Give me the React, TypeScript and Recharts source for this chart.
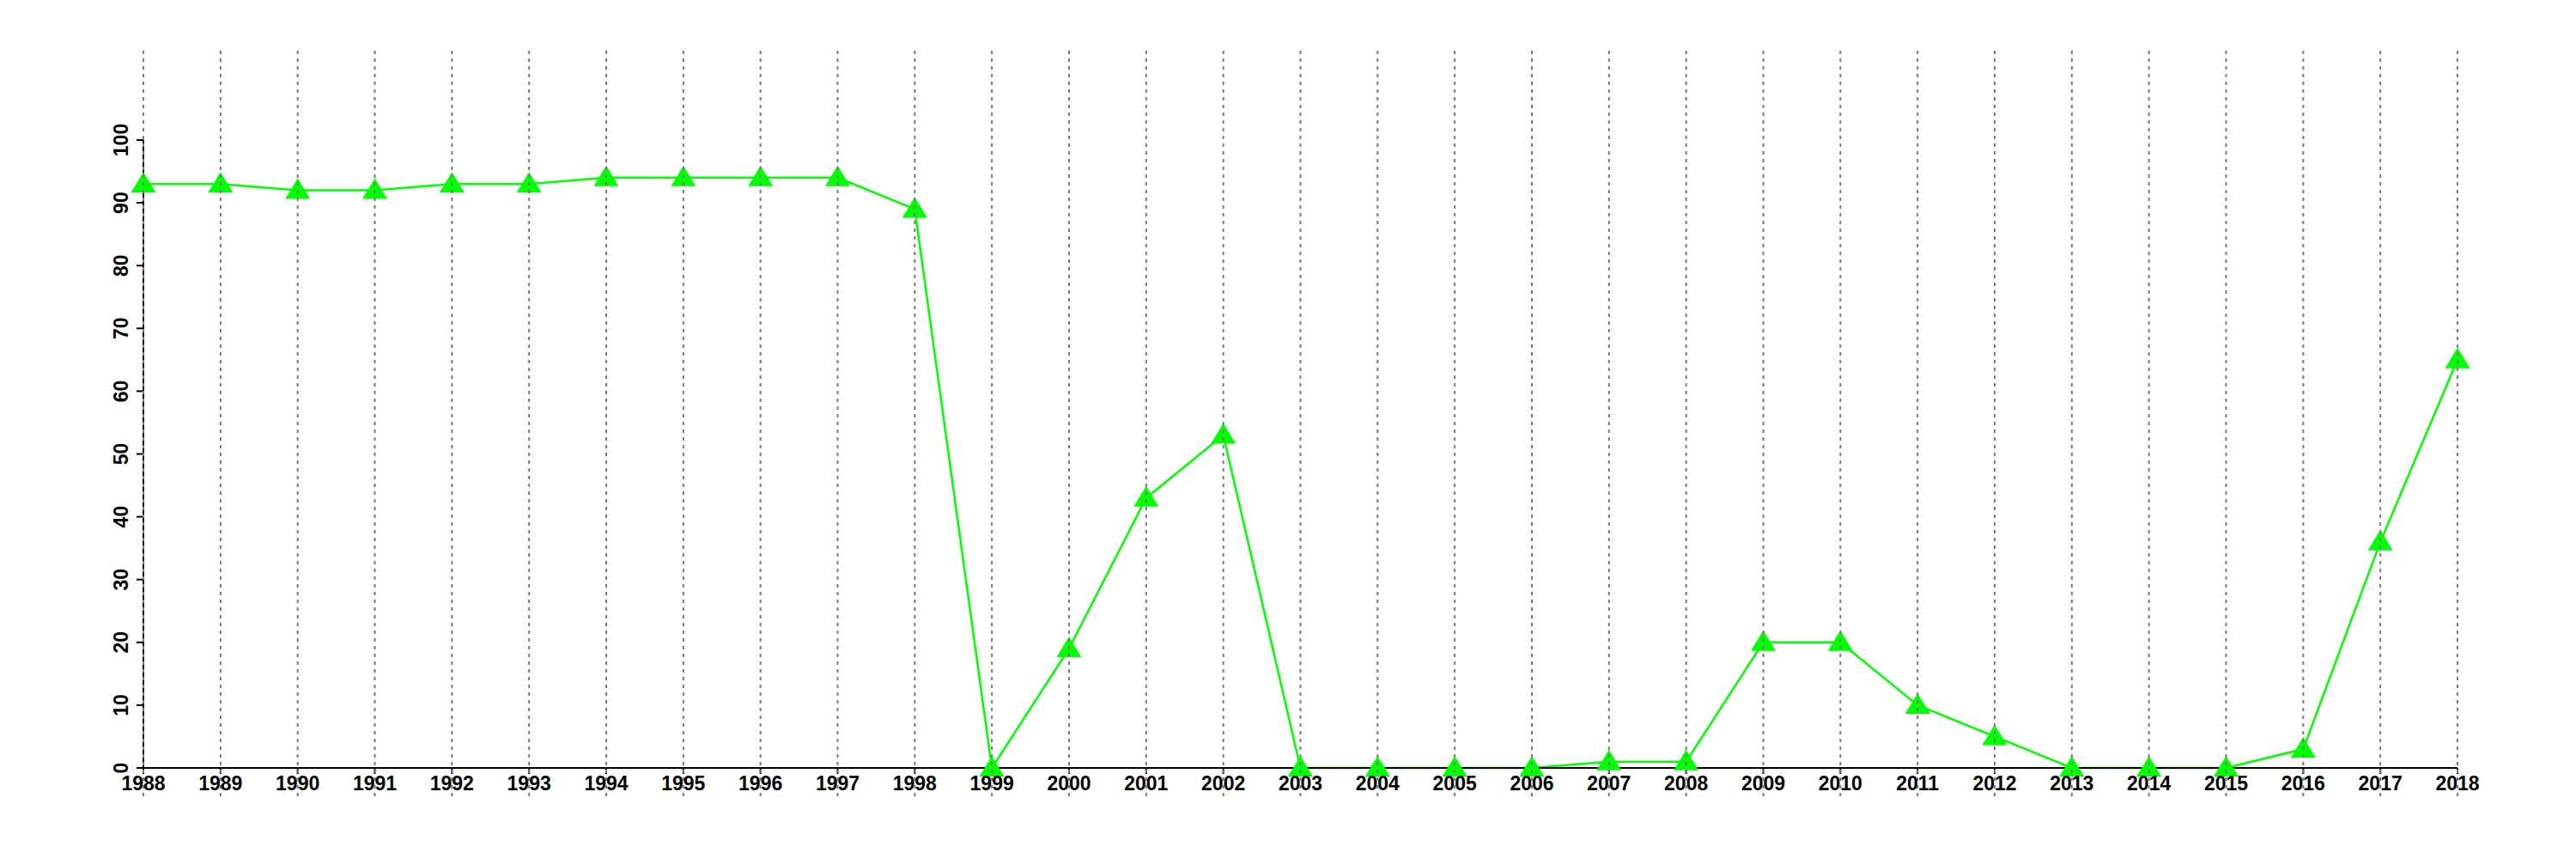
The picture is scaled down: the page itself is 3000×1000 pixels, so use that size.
import React from 'react';
import { LineChart, Line, XAxis, YAxis } from 'recharts';

const years = [1988, 1989, 1990, 1991, 1992, 1993, 1994, 1995, 1996, 1997, 1998, 1999, 2000, 2001, 2002, 2003, 2004, 2005, 2006, 2007, 2008, 2009, 2010, 2011, 2012, 2013, 2014, 2015, 2016, 2017, 2018];
const values = [93, 93, 92, 92, 93, 93, 94, 94, 94, 94, 89, 0, 19, 43, 53, 0, 0, 0, 0, 1, 1, 20, 20, 10, 5, 0, 0, 0, 3, 36, 65];
const yTicks = [0, 10, 20, 30, 40, 50, 60, 70, 80, 90, 100];

const data = years.map((year, i) => ({ year, value: values[i] }));

const GRID_TOP = 59;
const GRID_BOTTOM = 927;
const FONT = '"Liberation Sans", Arial, Helvetica, sans-serif';
const GREEN = '#00ff00';

const XTick = (props: any) => {
  const { x, y, payload } = props;
  return (
    <g>
      <line x1={x} x2={x} y1={GRID_TOP} y2={GRID_BOTTOM} stroke="#7a7a7a" strokeWidth={2} strokeDasharray="4 5" />
      <text x={x} y={y + 17} textAnchor="middle" fontFamily={FONT} fontWeight="bold" fontSize={23} fill="#000">
        {payload.value}
      </text>
    </g>
  );
};

const YTick = (props: any) => {
  const { x, y, payload } = props;
  const bx = x - 8;
  return (
    <text x={bx} y={y} transform={`rotate(-90, ${bx}, ${y})`} textAnchor="middle" fontFamily={FONT} fontWeight="bold" fontSize={23} fill="#000">
      {payload.value}
    </text>
  );
};

const Triangle = (props: any) => {
  const { cx, cy } = props;
  if (cx == null || cy == null) return null;
  const pts = `${cx},${cy - 14} ${cx - 14.5},${cy + 10} ${cx + 14.5},${cy + 10}`;
  return <polygon points={pts} fill={GREEN} stroke="none" />;
};

export default function App() {
  return (
    <div style={{ position: 'absolute', left: 0, top: 0, width: 3000, height: 1000, background: '#fff' }}>
      <LineChart width={3000} height={1000} data={data} margin={{ top: 163, right: 138, bottom: 66, left: 107 }}>
        <XAxis
          dataKey="year"
          type="number"
          domain={[1988, 2018]}
          ticks={years}
          interval={0}
          height={40}
          tickSize={7}
          tickMargin={2}
          tick={<XTick />}
          axisLine={{ stroke: '#000', strokeWidth: 2 }}
          tickLine={{ stroke: '#000', strokeWidth: 2 }}
        />
        <YAxis
          type="number"
          domain={[0, 100]}
          ticks={yTicks}
          interval={0}
          width={60}
          tickSize={8}
          tickMargin={2}
          tick={<YTick />}
          axisLine={{ stroke: '#000', strokeWidth: 2 }}
          tickLine={{ stroke: '#000', strokeWidth: 2 }}
        />
        <Line
          type="linear"
          dataKey="value"
          stroke={GREEN}
          strokeWidth={2.5}
          isAnimationActive={false}
          dot={(p: any) => <Triangle key={`t-${p.index}`} {...p} />}
          activeDot={false}
        />
      </LineChart>
    </div>
  );
}
